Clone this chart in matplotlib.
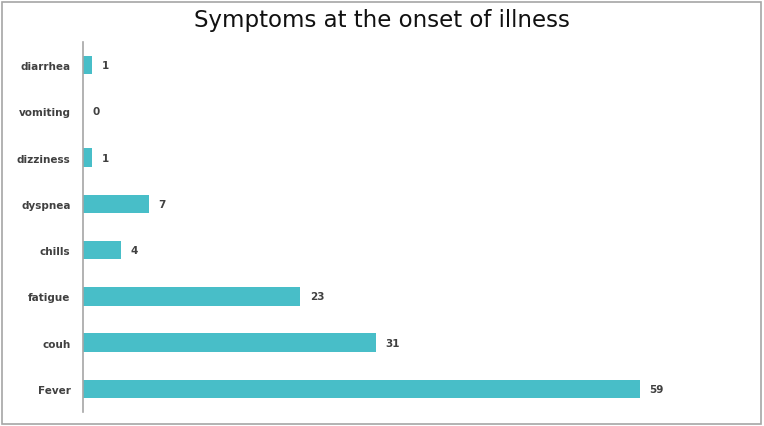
import matplotlib
matplotlib.use("Agg")
import matplotlib.pyplot as plt
from matplotlib.patches import Rectangle

categories = ["Fever", "couh", "fatigue", "chills", "dyspnea", "dizziness", "vomiting", "diarrhea"]
counts = [59, 31, 23, 4, 7, 1, 0, 1]

plt.rcParams['font.family'] = ['DejaVu Sans']

fig = plt.figure(figsize=(7.64, 4.27), dpi=100)
ax = fig.add_axes([83 / 764, 1 - 413 / 427, 661 / 764, 370 / 427])

pos = list(range(len(categories)))
ax.barh(pos, counts, height=0.4, color="#48BEC8")

for p, v in zip(pos, counts):
    ax.text(v + 1.0, p, str(v), va="center", ha="left",
            fontsize=7.5, fontweight="bold", color="#404040")

ax.set_xlim(0, 70)
ax.set_ylim(-0.5, len(categories) - 0.5)
ax.set_yticks(pos)
ax.set_yticklabels(categories, fontsize=7.5, fontweight="bold", color="#404040")
ax.tick_params(axis="y", length=0, pad=9)
ax.set_xticks([])
for s in ["top", "right", "bottom"]:
    ax.spines[s].set_visible(False)
ax.spines["left"].set_color("#A6A6A6")
ax.spines["left"].set_linewidth(1.2)

fig.text(0.5, 1 - 20 / 427, "Symptoms at the onset of illness", ha="center", va="center",
         fontsize=16.5, color="#111111")

fig.patches.append(Rectangle((2 / 764, 2 / 427), 759 / 764, 422 / 427,
                             transform=fig.transFigure, fill=False,
                             edgecolor="#A6A6A6", linewidth=1.2))

fig.savefig("out.png", dpi=100)
